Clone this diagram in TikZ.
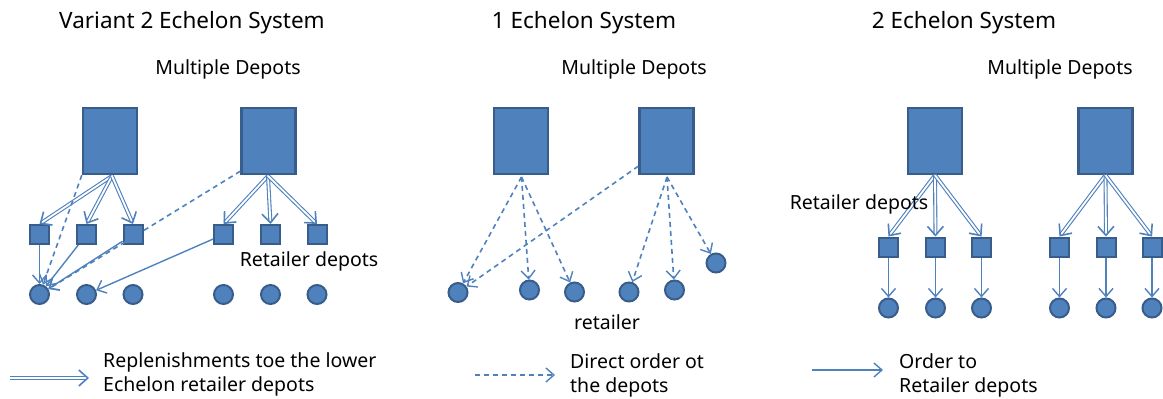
\documentclass[tikz,border=0pt]{standalone}
\usepackage{fontspec}
\setmainfont{Noto Sans}
\usetikzlibrary{arrows.meta,calc}
\definecolor{boxfill}{HTML}{4F81BD}
\definecolor{boxline}{HTML}{385D8A}
\definecolor{arr}{HTML}{4F81BD}
\begin{document}
\begin{tikzpicture}[x=1pt,y=-1pt,
  big/.style={draw=boxline,fill=boxfill,line width=2.4pt,minimum width=54pt,minimum height=66pt,inner sep=0pt},
  sq/.style={draw=boxline,fill=boxfill,line width=2pt,minimum size=19pt,inner sep=0pt},
  cir/.style={circle,draw=boxline,fill=boxfill,line width=2pt,minimum size=19pt,inner sep=0pt},
  title/.style={font=\fontsize{22.5}{26}\selectfont,anchor=base},
  lbl/.style={font=\fontsize{19.5}{24}\selectfont,anchor=base},
  leg/.style={font=\fontsize{19.5}{24}\selectfont,anchor=base west,align=left,inner sep=0pt},
  dbl/.style={draw=arr,line width=1.1pt,double=white,double distance=1.8pt,-{Straight Barb[length=9pt,width=16pt,line width=1.6pt]}},
  dsh/.style={draw=arr,line width=1.6pt,dash pattern=on 5pt off 4pt,-{Straight Barb[length=8pt,width=14pt,line width=1.4pt]}},
  sol/.style={draw=arr,line width=1.4pt,-{Straight Barb[length=8pt,width=14pt,line width=1.4pt]}}]
\useasboundingbox (0,0) rectangle (1163,399);
% titles
\node[title] (t1) at (192,28) {Variant 2 Echelon System};
\node[title] (t2) at (584,28) {1 Echelon System};
\node[title] (t3) at (964,28) {2 Echelon System};
\node[lbl] (m1) at (228,74) {Multiple Depots};
\node[lbl] (m2) at (634,74) {Multiple Depots};
\node[lbl] (m3) at (1060,74) {Multiple Depots};
% ===== panel 1
\foreach \n/\x in {1/39.5,2/86.5,3/133,4/223.5,5/270.5,6/317}{
  \node[cir] (pc\n) at (\x,294.5) {};
}
\foreach \n/\x in {1/39.5,2/86.5,3/133,4/223.5,5/270.5,6/317}{
  \node[sq] (ps\n) at (\x,234.5) {};
}
\node[big] (PD1) at (110,141) {};
\node[big] (PD2) at (268.5,141) {};
\coordinate (pd1b) at (112,176);
\coordinate (pd2b) at (268,176);
\draw[dbl] (pd1b) -- (ps1.north);
\draw[dbl] (pd1b) -- (ps2.north);
\draw[dbl] (pd1b) -- (ps3.north);
\draw[dbl] (pd2b) -- (ps4.north);
\draw[dbl] (pd2b) -- (ps5.north);
\draw[dbl] (pd2b) -- (ps6.north);
\draw[dsh] (PD1.south west) -- (pc1);
\draw[dsh] ($(PD2.south west)+(0,-4)$) -- (pc1);
\draw[sol] (ps1) -- (pc1);
\draw[sol] (ps2) -- (pc1);
\draw[sol] (ps3) -- (pc1);
\draw[sol] (ps4) -- (pc2);
\node[lbl] (rd1) at (309,266) {Retailer depots};
% ===== panel 2
\node[big] (QA) at (521,141) {};
\node[big] (QB) at (666.5,141) {};
\node[cir] (qc1) at (458,292.5) {};
\node[cir] (qc2) at (529.5,290) {};
\node[cir] (qc3) at (574.5,292) {};
\node[cir] (qc4) at (629,292) {};
\node[cir] (qc5) at (674.5,290) {};
\node[cir] (qc6) at (716,263) {};
\coordinate (qab) at (521.5,177);
\coordinate (qbb) at (667,177);
\draw[dsh] (qab) -- (qc1);
\draw[dsh] (qab) -- (qc2);
\draw[dsh] (qab) -- (qc3);
\draw[dsh] ($(QB.south west)+(0,-9)$) -- (qc1);
\draw[dsh] (qbb) -- (qc4);
\draw[dsh] (qbb) -- (qc5);
\draw[dsh] (qbb) -- (qc6);
\node[lbl] (ret) at (607,329) {retailer};
% ===== panel 3
\node[big] (RC) at (935,141) {};
\node[big] (RD) at (1105.5,141) {};
\foreach \n/\x in {1/888.5,2/935.5,3/981.5,4/1059.5,5/1106,6/1152}{
  \node[sq] (rs\n) at (\x,247) {};
  \node[cir] (rc\n) at (\x,308) {};
  \draw[sol] (rs\n) -- (rc\n);
}
\draw[dbl] (RC.south) -- (rs1.north);
\draw[dbl] (RC.south) -- (rs2.north);
\draw[dbl] (RC.south) -- (rs3.north);
\draw[dbl] (RD.south) -- (rs4.north);
\draw[dbl] (RD.south) -- (rs5.north);
\draw[dbl] (RD.south) -- (rs6.north);
\node[lbl] (rd3) at (859,209) {Retailer depots};
% ===== legends
\coordinate (la1) at (10,378);
\coordinate (lb1) at (89,378);
\draw[dbl] (la1) -- (lb1);
\node[leg] (lt1) at (103,391) {Replenishments toe the lower\\Echelon retailer depots};
\coordinate (la2) at (475,375);
\coordinate (lb2) at (555,375);
\draw[dsh] (la2) -- (lb2);
\node[leg] (lt2) at (570,392) {Direct order ot\\the depots};
\coordinate (la3) at (812,370);
\coordinate (lb3) at (883,370);
\draw[sol] (la3) -- (lb3);
\node[leg] (lt3) at (899,392) {Order to\\Retailer depots};
\end{tikzpicture}
\end{document}
